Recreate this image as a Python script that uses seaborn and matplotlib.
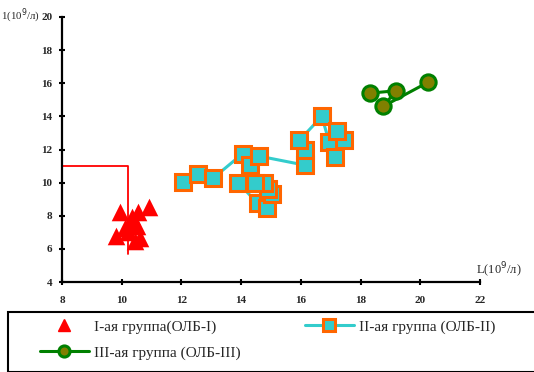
import matplotlib
matplotlib.use("Agg")
import matplotlib.pyplot as plt
import seaborn as sns
import pandas as pd
from matplotlib.lines import Line2D
from matplotlib.patches import Rectangle

sns.set_theme(style="white")
plt.rcParams['font.family'] = ['Liberation Serif', 'DejaVu Serif']

# Group I (triangles)
g1_x = [9.95, 10.9, 10.55, 10.35, 9.8, 10.2, 10.1, 10.5, 10.6, 10.45, 10.3]
g1_y = [8.2, 8.55, 8.2, 7.9, 6.8, 7.0, 7.25, 7.4, 6.65, 6.5, 7.6]

# Group II (squares, connected)
g2_x = [12.05, 12.55, 13.05, 14.05, 14.3, 13.9, 14.55, 14.85, 15.05, 14.9, 14.75,
        14.45, 14.6, 16.15, 16.15, 15.95, 16.7, 16.95, 17.15, 17.45, 17.2]
g2_y = [10.05, 10.55, 10.25, 11.75, 11.05, 10.0, 8.75, 8.45, 9.3, 9.6, 10.0,
        10.0, 11.6, 11.05, 12.0, 12.55, 14.0, 12.45, 11.55, 12.55, 13.1]

# Group III (circles, connected)
g3_x = [18.3, 19.2, 18.75, 20.25]
g3_y = [15.4, 15.55, 14.6, 16.05]

# Reference line (red)
ref_x = [8.0, 10.2, 10.2]
ref_y = [11.0, 11.0, 5.7]

labels = ["I-ая группа(ОЛБ-I)", "II-ая группа (ОЛБ-II)", "III-ая группа (ОЛБ-III)"]
x_ticks = [8, 10, 12, 14, 16, 18, 20, 22]
y_ticks = [4, 6, 8, 10, 12, 14, 16, 18, 20]

W, H = 534, 372
fig = plt.figure(figsize=(W / 100, H / 100), dpi=100)
ax = fig.add_axes([62 / W, 1 - 282 / H, (480 - 62) / W, (282 - 17) / H])

red = "#FF0000"
teal = "#33CCCC"
orange = "#FF6600"
green = "#008000"
olive = "#808000"

ax.plot(ref_x, ref_y, color=red, lw=1.3, zorder=2)

df2 = pd.DataFrame({"x": g2_x, "y": g2_y})
sns.lineplot(data=df2, x="x", y="y", sort=False, estimator=None, ax=ax,
             color=teal, lw=2.2, marker="s", markersize=12,
             markerfacecolor=teal, markeredgecolor=orange, markeredgewidth=2.2, zorder=3)

df3 = pd.DataFrame({"x": g3_x, "y": g3_y})
sns.lineplot(data=df3, x="x", y="y", sort=False, estimator=None, ax=ax,
             color=green, lw=2.2, marker="o", markersize=11,
             markerfacecolor=olive, markeredgecolor=green, markeredgewidth=2.2, zorder=3)

df1 = pd.DataFrame({"x": g1_x, "y": g1_y})
sns.scatterplot(data=df1, x="x", y="y", ax=ax, marker="^", s=160,
                color=red, edgecolor=red, linewidth=0, zorder=4)

ax.set_xlim(8, 22)
ax.set_ylim(4, 20)
ax.set_xticks(x_ticks)
ax.set_yticks(y_ticks)
ax.set_xticklabels([str(t) for t in x_ticks], fontweight="bold", fontsize=8)
ax.set_yticklabels([str(t) for t in y_ticks], fontweight="bold", fontsize=8)
ax.set_xlabel("")
ax.set_ylabel("")
for s in ["top", "right"]:
    ax.spines[s].set_visible(False)
for s in ["left", "bottom"]:
    ax.spines[s].set_color("black")
    ax.spines[s].set_linewidth(1.6)
ax.tick_params(axis="both", direction="inout", length=4, width=1.5, color="black",
               left=True, bottom=True, pad=5)
ax.tick_params(axis="x", pad=8)

fig.text(1 / W, 1 - 16 / H, "1(10$^9$/л)", fontsize=7.8, ha="left", va="center")
ax.text(21.85, 4.15, "L(10$^9$/л)", fontsize=9, ha="left", va="bottom")

# Legend box
rect = Rectangle((8 / W, 0), 1.0, (372 - 312) / H, transform=fig.transFigure,
                 fill=False, edgecolor="black", lw=1.5, clip_on=False)
fig.add_artist(rect)

h1 = Line2D([], [], ls="none", marker="^", color=red, markersize=9)
h2 = Line2D([], [], color=teal, lw=2.2, marker="s", markersize=8,
            markerfacecolor=teal, markeredgecolor=orange, markeredgewidth=2.2)
h3 = Line2D([], [], color=green, lw=2.2, marker="o", markersize=8,
            markerfacecolor=olive, markeredgecolor=green, markeredgewidth=2.2)
fig.legend([h1, h3, h2], [labels[0], labels[2], labels[1]], ncol=2,
           loc="upper left", bbox_to_anchor=(40 / W, 1 - 320 / H),
           frameon=False, fontsize=11, handlelength=3.2, handletextpad=0.35,
           columnspacing=4.2, labelspacing=0.8, borderaxespad=0, borderpad=0)

fig.savefig("out.png", dpi=100)
